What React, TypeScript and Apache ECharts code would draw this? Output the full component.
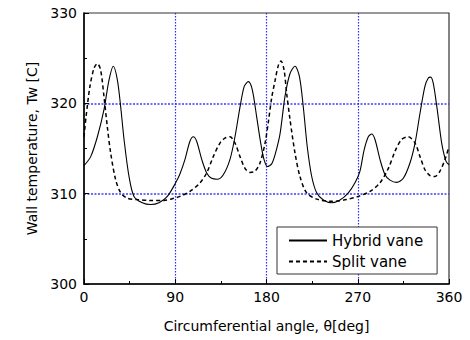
import React, { useEffect, useRef } from "react";
import * as echarts from "echarts";

const hybridAngle = [0, 6.6, 13.2, 19.7, 24.7, 28.9, 32.9, 36.2, 39.5, 44.4, 49.3, 57.5, 65.8, 74.0, 82.2, 90.4, 94.7, 99.6, 104.5, 107.8, 111.1, 116.1, 121.0, 125.9, 131.5, 137.4, 144.0, 148.9, 153.9, 158.1, 162.1, 166.0, 170.3, 174.3, 177.5, 180.8, 185.1, 188.4, 193.3, 198.2, 203.2, 208.1, 212.4, 216.3, 220.2, 224.6, 229.5, 236.1, 244.3, 252.5, 260.7, 267.3, 272.2, 276.2, 280.4, 283.7, 287.0, 291.9, 296.9, 301.8, 308.4, 314.9, 321.5, 326.5, 331.4, 336.3, 339.6, 341.9, 344.5, 348.4, 352.8, 357.0, 360];
const hybridTemp = [313.1, 314.1, 316.3, 319.3, 322.6, 324.1, 322.6, 319.6, 316.0, 311.9, 309.7, 309.0, 308.8, 309.0, 309.7, 311.2, 312.2, 313.8, 315.8, 316.3, 315.8, 313.8, 312.3, 311.7, 311.6, 312.1, 313.8, 316.3, 319.6, 321.9, 322.4, 321.5, 318.5, 315.6, 313.8, 313.0, 313.3, 314.3, 316.6, 320.75, 323.3, 324.1, 323.0, 319.6, 315.2, 311.9, 310.1, 309.3, 309.0, 309.3, 310.1, 311.2, 312.5, 314.8, 316.3, 316.6, 316.0, 313.8, 312.1, 311.5, 311.25, 311.7, 313.4, 315.6, 318.9, 321.9, 322.8, 322.9, 322.2, 319.3, 315.6, 313.6, 313.2];

const splitAngle = [0, 2, 5.9, 9.9, 13.2, 16.4, 19.7, 23.0, 26.3, 31.2, 36.2, 42.7, 52.6, 65.8, 78.9, 88.8, 94.7, 104.5, 114.4, 121.0, 127.5, 134.1, 139.0, 144.0, 148.9, 153.9, 158.8, 163.7, 168.7, 173.6, 178.6, 181.9, 185.1, 188.4, 191.7, 194.3, 197.3, 199.9, 203.2, 208.1, 213.0, 219.5, 229.5, 244.3, 259.0, 270.6, 282.1, 291.9, 300.2, 306.8, 313.2, 319.8, 326.5, 331.4, 336.3, 341.3, 346.2, 351.1, 356.1, 360];
const splitTemp = [316.3, 318.5, 321.9, 323.9, 324.4, 323.7, 320.75, 317.4, 314.5, 311.55, 310.1, 309.5, 309.35, 309.25, 309.25, 309.5, 309.7, 310.25, 311.2, 312.3, 314.1, 315.6, 316.15, 316.3, 315.6, 314.1, 312.8, 312.35, 312.5, 313.4, 315.6, 318.0, 320.6, 322.5, 324.2, 324.7, 323.7, 321.1, 318.2, 314.5, 311.9, 310.1, 309.4, 309.15, 309.35, 309.7, 310.25, 311.2, 312.8, 314.7, 316.0, 316.3, 315.6, 314.1, 312.65, 312.0, 311.9, 312.5, 313.8, 315.2];

const seriesNames = ["Hybrid vane", "Split vane"];
const xTicks = { min: 0, max: 360, interval: 90 };
const yTicks = { min: 300, max: 330, interval: 10 };

const FONT = "DejaVu Sans";

export default function App() {
  const ref = useRef<HTMLDivElement>(null);
  useEffect(() => {
    if (!ref.current) return;
    const chart = echarts.init(ref.current, undefined, { renderer: "svg" });
    chart.setOption({
      animation: false,
      backgroundColor: "#fff",
      grid: { left: 84, top: 13, right: 21, bottom: 56, show: true, borderColor: "#333", borderWidth: 1.2, backgroundColor: "transparent" },
      legend: {
        orient: "vertical",
        left: 277,
        top: 227,
        data: seriesNames,
        itemWidth: 38,
        itemHeight: 14,
        itemGap: 6,
        padding: [6, 14, 5, 11],
        borderColor: "#333",
        borderWidth: 1,
        backgroundColor: "#fff",
        itemStyle: { opacity: 0 },
        textStyle: { fontFamily: FONT, fontSize: 15, color: "#000" },
      },
      xAxis: {
        type: "value",
        min: xTicks.min,
        max: xTicks.max,
        interval: xTicks.interval,
        name: "Circumferential angle, θ[deg]",
        nameLocation: "middle",
        nameGap: 35,
        nameTextStyle: { fontFamily: FONT, fontSize: 14, color: "#000" },
        axisLine: { show: true, onZero: false, lineStyle: { color: "#000", width: 1.5 } },
        axisTick: { show: true, inside: true, length: 5, lineStyle: { color: "#000", width: 1 } },
        minorTick: { show: true, splitNumber: 2, length: 3, lineStyle: { color: "#000", width: 1 } },
        axisLabel: { fontFamily: FONT, fontSize: 14, color: "#000", margin: 6 },
        splitLine: { show: true, showMinLine: false, showMaxLine: false, lineStyle: { color: "#2b2bff", type: [1.5, 1.5], width: 1.2 } },
      },
      yAxis: {
        type: "value",
        min: yTicks.min,
        max: yTicks.max,
        interval: yTicks.interval,
        name: "Wall temperature, Tw [C]",
        nameLocation: "middle",
        nameGap: 30,
        nameTextStyle: { fontFamily: FONT, fontSize: 14, color: "#000" },
        axisLine: { show: true, onZero: false, lineStyle: { color: "#000", width: 1.5 } },
        axisTick: { show: true, inside: true, length: 5, lineStyle: { color: "#000", width: 1 } },
        minorTick: { show: true, splitNumber: 2, length: 3, lineStyle: { color: "#000", width: 1 } },
        axisLabel: { fontFamily: FONT, fontSize: 14, color: "#000", margin: 7 },
        splitLine: { show: true, showMinLine: false, showMaxLine: false, lineStyle: { color: "#3b3bff", type: [2, 1.5], width: 1.6 } },
      },
      series: [
        {
          name: seriesNames[0],
          type: "line",
          data: hybridAngle.map((a, i) => [a, hybridTemp[i]]),
          showSymbol: false,
          symbol: "none",
          smooth: 0.3,
          lineStyle: { color: "#000", width: 1.1, type: "solid" },
          itemStyle: { color: "#000" },
        },
        {
          name: seriesNames[1],
          type: "line",
          data: splitAngle.map((a, i) => [a, splitTemp[i]]),
          showSymbol: false,
          symbol: "none",
          smooth: 0.3,
          lineStyle: { color: "#000", width: 1.5, type: [4, 3] },
          itemStyle: { color: "#000" },
        },
      ],
    });
    return () => chart.dispose();
  }, []);
  return <div ref={ref} style={{ position: "fixed", left: 0, top: 0, width: 470, height: 340, background: "#fff" }} />;
}
